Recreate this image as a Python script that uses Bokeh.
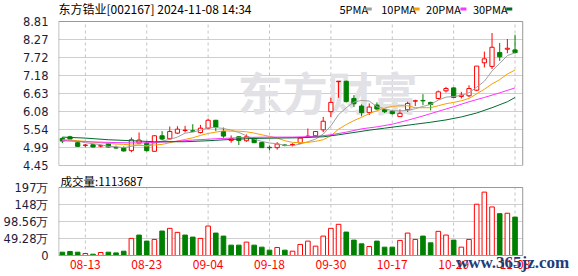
from bokeh.plotting import figure
from bokeh.layouts import column
from bokeh.models import Range1d, FixedTicker, ColumnDataSource
from bokeh.embed import file_html
from bokeh.resources import INLINE
from bokeh.core.properties import value

# ---------------- data ----------------
stock_title = "东方锆业[002167] 2024-11-08 14:34"
dates = ["08-08", "08-09", "08-12", "08-13", "08-14", "08-15", "08-16", "08-19", "08-20", "08-21",
         "08-22", "08-23", "08-26", "08-27", "08-28", "08-29", "08-30", "09-02", "09-03", "09-04",
         "09-05", "09-06", "09-09", "09-10", "09-11", "09-12", "09-13", "09-18", "09-19", "09-20",
         "09-23", "09-24", "09-25", "09-26", "09-27", "09-30", "10-08", "10-09", "10-10", "10-11",
         "10-14", "10-15", "10-16", "10-17", "10-18", "10-21", "10-22", "10-23", "10-24", "10-25",
         "10-28", "10-29", "10-30", "10-31", "11-01", "11-04", "11-05", "11-06", "11-07", "11-08"]
opens = [5.27, 5.32, 5.14, 5.06, 5.08, 5.04, 5.11, 4.99, 4.99, 4.90,
         5.13, 5.13, 4.88, 5.35, 5.26, 5.43, 5.51, 5.50, 5.45, 5.58,
         5.82, 5.48, 5.21, 5.32, 5.20, 5.27, 5.15, 5.00, 4.99, 5.07,
         5.08, 5.13, 5.32, 5.35, 5.53, 6.08, 7.00, 7.00, 6.48, 6.25,
         6.05, 6.28, 6.14, 6.09, 5.93, 6.14, 6.40, 6.42, 6.36, 6.48,
         6.71, 6.80, 6.54, 6.56, 6.73, 7.56, 7.45, 7.87, 7.97, 7.95]
highs = [5.31, 5.35, 5.16, 5.10, 5.10, 5.08, 5.14, 5.05, 5.03, 5.30,
         5.45, 5.17, 5.36, 5.49, 5.63, 5.64, 5.65, 5.70, 5.68, 5.87,
         5.83, 5.60, 5.36, 5.34, 5.39, 5.29, 5.16, 5.05, 5.16, 5.10,
         5.12, 5.31, 5.57, 5.49, 5.92, 6.50, 7.00, 7.02, 6.58, 6.30,
         6.33, 6.36, 6.17, 6.13, 6.15, 6.38, 6.44, 6.61, 6.38, 6.72,
         6.83, 6.82, 6.68, 6.88, 7.46, 7.90, 8.46, 8.16, 8.28, 8.41]
lows = [5.13, 5.24, 5.01, 5.00, 5.00, 5.00, 4.99, 4.96, 4.87, 4.85,
        5.12, 4.87, 4.87, 5.22, 5.23, 5.40, 5.45, 5.46, 5.42, 5.55,
        5.49, 5.29, 5.14, 5.07, 5.17, 5.13, 4.98, 4.91, 4.93, 5.03,
        5.03, 5.10, 5.31, 5.33, 5.46, 5.92, 6.50, 6.36, 6.22, 5.94,
        5.98, 6.14, 6.04, 5.99, 5.92, 6.07, 6.25, 6.28, 6.12, 6.45,
        6.66, 6.50, 6.48, 6.52, 6.70, 7.42, 7.37, 7.62, 7.85, 7.84]
closes = [5.19, 5.25, 5.03, 5.07, 5.01, 5.05, 5.01, 4.98, 4.89, 5.23,
          5.22, 4.90, 5.35, 5.25, 5.48, 5.55, 5.52, 5.49, 5.58, 5.82,
          5.61, 5.34, 5.26, 5.21, 5.32, 5.14, 4.99, 4.99, 5.10, 5.06,
          5.09, 5.28, 5.34, 5.48, 5.79, 6.36, 7.00, 6.39, 6.32, 6.05,
          6.22, 6.16, 6.08, 6.02, 6.03, 6.33, 6.41, 6.41, 6.30, 6.68,
          6.78, 6.51, 6.58, 6.78, 7.46, 7.68, 8.03, 7.74, 8.00, 7.87]
# volume in 万 shares, and the colour class of each volume bar as shown
volume_wan = [9.6, 11.7, 9.6, 5.8, 3.8, 8.7, 9.6, 7.6, 12.5, 49.6,
              59.2, 41.7, 46.6, 70.9, 78.7, 67.1, 59.2, 53.4, 49.6, 85.4,
              65.0, 56.3, 30.0, 30.0, 38.8, 30.0, 24.2, 15.5, 23.3, 15.5,
              12.5, 32.1, 41.7, 27.1, 56.3, 78.7, 90.4, 67.9, 44.6, 33.8,
              26.2, 41.7, 24.2, 24.2, 43.7, 65.0, 46.6, 56.3, 36.7, 70.0,
              59.2, 44.6, 24.2, 46.6, 148.7, 183.7, 140.8, 121.3, 122.5, 111.3687]
volume_dir = ["dn", "dn", "dn", "up", "dn", "up", "dn", "dn", "dn", "up",
              "dn", "dn", "up", "dn", "up", "up", "dn", "dn", "up", "up",
              "dn", "dn", "dn", "dn", "up", "dn", "dn", "dn", "up", "dn",
              "up", "up", "up", "up", "up", "up", "up", "dn", "dn", "dn",
              "up", "dn", "dn", "dn", "up", "up", "up", "dn", "dn", "up",
              "up", "dn", "up", "up", "up", "up", "up", "dn", "up", "dn"]
ma5 = [5.21, 5.21, 5.19, 5.14, 5.11, 5.08, 5.03, 5.02, 4.99, 5.03,
       5.07, 5.04, 5.12, 5.19, 5.24, 5.31, 5.43, 5.46, 5.52, 5.59,
       5.60, 5.57, 5.52, 5.45, 5.35, 5.25, 5.18, 5.13, 5.11, 5.06,
       5.05, 5.10, 5.17, 5.25, 5.40, 5.65, 5.99, 6.20, 6.37, 6.42,
       6.40, 6.23, 6.17, 6.11, 6.10, 6.12, 6.17, 6.24, 6.30, 6.43,
       6.52, 6.54, 6.57, 6.65, 6.82, 7.00, 7.31, 7.54, 7.78, 7.86]
ma10 = [5.23, 5.22, 5.20, 5.18, 5.16, 5.14, 5.12, 5.10, 5.09, 5.07,
        5.07, 5.04, 5.07, 5.09, 5.14, 5.19, 5.24, 5.29, 5.36, 5.42,
        5.46, 5.50, 5.49, 5.49, 5.47, 5.43, 5.38, 5.33, 5.28, 5.20,
        5.15, 5.14, 5.15, 5.18, 5.23, 5.35, 5.55, 5.69, 5.81, 5.91,
        6.02, 6.11, 6.19, 6.24, 6.26, 6.26, 6.20, 6.20, 6.20, 6.26,
        6.32, 6.36, 6.41, 6.48, 6.62, 6.76, 6.92, 7.05, 7.22, 7.34]
ma20_idx = [0, 3, 6, 10, 14, 17, 20, 24, 27, 30, 33, 35, 37, 39, 41, 43, 45, 47, 49, 51, 53, 55, 57, 59]
ma20 = [5.20, 5.17, 5.15, 5.13, 5.17, 5.22, 5.26, 5.30, 5.31, 5.31, 5.33, 5.38,
        5.46, 5.56, 5.62, 5.70, 5.82, 5.95, 6.09, 6.23, 6.38, 6.51, 6.65, 6.80]
ma30_idx = [0, 3, 6, 9, 12, 16, 19, 22, 25, 28, 31, 34, 36, 38, 40, 42, 44, 46, 48, 50, 52, 54, 56, 58, 59]
ma30 = [5.31, 5.28, 5.23, 5.20, 5.17, 5.17, 5.20, 5.24, 5.27, 5.28, 5.29, 5.32, 5.38,
        5.45, 5.52, 5.58, 5.64, 5.70, 5.76, 5.83, 5.92, 6.04, 6.20, 6.38, 6.51]
ma_names = ["5PMA", "10PMA", "20PMA", "30PMA"]
price_ticks = [4.45, 4.995, 5.54, 6.085, 6.63, 7.175, 7.72, 8.265, 8.81]
price_tick_labels = ["4.45", "4.99", "5.54", "6.08", "6.63", "7.18", "7.72", "8.27", "8.81"]
vol_ticks = [0, 492800, 985600, 1478400, 1971200]
vol_tick_labels = ["0", "49.28万", "98.56万", "148万", "197万"]
date_tick_labels = ["08-13", "08-23", "09-04", "09-18", "09-30", "10-17", "10-29", "11-08"]

# ---------------- styles / layout geometry ----------------
RED = "#ff0000"
GREEN = "#008000"
MA_COLORS = ["#a0a0a0", "#f5a000", "#ff33ff", "#006a30"]
GRID = "#cfcfcf"
VGRID = "#c4c4c4"
FRAME = "#999999"
AXIS_TXT = "#1c1c3c"
X0, X1 = -0.5, 60.0            # x extent of the boxed chart area
FL, FW = 56, 466               # boxed chart area left (px) and width (px)
XPX = FW / (X1 - X0)           # px per bar
X_END = X0 + (578 - FL) / XPX  # plot frames run to the right canvas edge
P_LO, P_HI = price_ticks[0], price_ticks[-1]
P_PX = 144.0 / (P_HI - P_LO)   # px per price unit
P_TOP = P_HI + 21 / P_PX       # price panel frame reaches the canvas top
V_HI = vol_ticks[-1]
V_PX = V_HI / 68.0             # volume units per px
SPLIT = 172                    # canvas row where the volume panel starts

def px2x(cx):
    return X0 + (cx - FL) / XPX

def py2p(cy):
    return P_HI + (21 - cy) / P_PX

def py2v(cy):
    return (255 - cy) * V_PX

n = len(dates)
idx = list(range(n))
date_ticks = [dates.index(d) for d in date_tick_labels]
x_range = Range1d(X0, X_END)

def style_yaxis(ax, ticks, labels):
    ax.ticker = FixedTicker(ticks=ticks)
    ax.major_label_overrides = dict(zip(ticks, labels))
    ax.axis_line_color = None
    ax.major_tick_line_color = None
    ax.minor_tick_line_color = None
    ax.major_label_standoff = 4
    ax.major_label_text_font = "DejaVu Sans"
    ax.major_label_text_font_size = "11.5px"
    ax.major_label_text_color = AXIS_TXT

# ---------------- price panel ----------------
p1 = figure(width=578, height=SPLIT, x_range=x_range, y_range=Range1d(P_LO, P_TOP), title=None,
            output_backend="svg", toolbar_location=None, x_axis_location=None,
            min_border_left=FL, min_border_right=0, min_border_top=0,
            min_border_bottom=SPLIT - 165)
p1.outline_line_color = None
p1.grid.visible = False
style_yaxis(p1.yaxis[0], price_ticks, price_tick_labels)
p1.segment(x0=X0, y0=price_ticks, x1=X1, y1=price_ticks, line_color=GRID)
p1.segment(x0=date_ticks, y0=P_LO, x1=date_ticks, y1=P_HI, line_color=VGRID, line_dash="3 3")

# watermark
p1.text(x=[px2x(236)], y=[py2p(91)], text=["东方财富"], text_font=value("Noto Sans CJK SC"),
        text_font_size="45px", text_font_style="bold", text_color="#e2e2e6",
        text_baseline="middle", text_align="left")

up = [c >= o for o, c in zip(opens, closes)]
btop = [max(o, c) for o, c in zip(opens, closes)]
bbot = [min(o, c) if abs(c - o) > 0.012 else max(o, c) - 0.012 for o, c in zip(opens, closes)]
cols = dict(x=idx, h=highs, l=lows, t=btop, b=bbot)
def sub(ids):
    return ColumnDataSource({k: [v[i] for i in ids] for k, v in cols.items()})
su = sub([i for i in idx if up[i]])
sd = sub([i for i in idx if not up[i]])
p1.segment(x0="x", y0="l", x1="x", y1="h", source=su, line_color=RED, line_width=1)
p1.segment(x0="x", y0="l", x1="x", y1="h", source=sd, line_color=GREEN, line_width=1)
p1.vbar(x="x", top="t", bottom="b", width=0.55, source=su, fill_color="white", line_color=RED, line_width=1)
p1.vbar(x="x", top="t", bottom="b", width=0.55, source=sd, fill_color=GREEN, line_color=GREEN, line_width=1)

p1.line(idx, ma5, line_color=MA_COLORS[0], line_width=1)
p1.line(idx, ma10, line_color=MA_COLORS[1], line_width=1)
p1.line(ma20_idx, ma20, line_color=MA_COLORS[2], line_width=1)
p1.line(ma30_idx, ma30, line_color=MA_COLORS[3], line_width=1)

# frame box of the price panel
p1.quad(left=X0 + 0.03, right=X1, bottom=P_LO, top=P_HI, fill_color=None, line_color=FRAME)

# header: title and MA legend
p1.text(x=[px2x(56)], y=[py2p(8)], text=[stock_title], text_font=value("Noto Sans CJK SC"),
        text_font_size="12px", text_color="#000000", text_baseline="middle", text_align="left")
leg_px = [338, 380, 425, 472]
p1.text(x=[px2x(c) for c in leg_px], y=[py2p(8)] * 4, text=ma_names, text_font=value("Noto Sans CJK SC"),
        text_font_size="11px", text_color="#000000", text_baseline="middle", text_align="left")
sq_px = [367.5, 415.5, 462.5, 508.5]
p1.rect(x=[px2x(c) for c in sq_px], y=[py2p(8.5)] * 4, width=6, height=3,
        width_units="screen", height_units="screen", fill_color=MA_COLORS, line_color=None)

# ---------------- volume panel (chart area + date row + watermark) ----------------
vol = [v * 10000 for v in volume_wan]
p2 = figure(width=578, height=276 - SPLIT, x_range=x_range,
            y_range=Range1d(py2v(276), py2v(SPLIT)), title=None,
            output_backend="svg", toolbar_location=None, x_axis_location=None,
            min_border_left=FL, min_border_right=0, min_border_top=0, min_border_bottom=0)
p2.outline_line_color = None
p2.grid.visible = False
style_yaxis(p2.yaxis[0], vol_ticks, vol_tick_labels)
p2.segment(x0=X0, y0=vol_ticks, x1=X1, y1=vol_ticks, line_color=GRID)
p2.segment(x0=date_ticks, y0=0, x1=date_ticks, y1=V_HI, line_color=VGRID, line_dash="3 3")

vu = [i for i in idx if volume_dir[i] == "up"]
vd = [i for i in idx if volume_dir[i] == "dn"]
p2.vbar(x=vu, top=[vol[i] for i in vu], bottom=0, width=0.6, fill_color="white", line_color=RED, line_width=1)
p2.vbar(x=vd, top=[vol[i] for i in vd], bottom=0, width=0.6, fill_color=GREEN, line_color=GREEN, line_width=1)
p2.quad(left=X0 + 0.03, right=X1, bottom=0, top=V_HI, fill_color=None, line_color=FRAME)

# date labels under the volume bars
p2.text(x=date_ticks, y=[py2v(264)] * len(date_ticks), text=date_tick_labels,
        text_font=value("Noto Sans CJK SC"), text_font_size="12px", text_color=RED,
        text_baseline="middle", text_align="center")

p2.text(x=[px2x(58)], y=[py2v(180.5)], text=["成交量:" + str(int(round(volume_wan[-1] * 10000)))],
        text_font=value("Noto Sans CJK SC"), text_font_size="11.5px", text_color="#000000",
        text_baseline="middle", text_align="left")
p2.text(x=[px2x(455)], y=[py2v(262)], text=["www.365jz.com"],
        text_font=value("Liberation Serif"), text_font_size="17px", text_font_style="bold",
        text_color="#1e3c78", text_baseline="middle", text_align="left")

layout = column(p1, p2, spacing=0)
open("out.html", "w").write(file_html(layout, INLINE))
